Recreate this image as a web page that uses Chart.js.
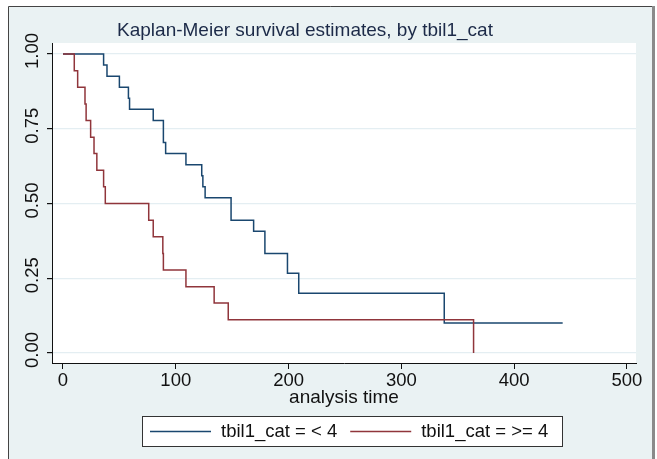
<!DOCTYPE html>
<html>
<head>
<meta charset="utf-8">
<script src="https://cdn.jsdelivr.net/npm/chart.js@4.4.0/dist/chart.umd.min.js"></script>
<style>
  html, body { margin: 0; padding: 0; background: #fff; }
  #wrap { width: 657px; height: 459px; }
</style>
</head>
<body>
<div id="wrap"><canvas id="km" width="657" height="459"></canvas></div>
<script>
// Kaplan-Meier estimates (time, survival after that time)
let lowTimes = [0, 36, 39, 50, 58, 59, 80, 89, 91, 109, 123, 124, 126, 149, 169, 179, 199, 209, 338, 443];
let lowSurv = [1, 0.963, 0.926, 0.889, 0.852, 0.815, 0.778, 0.704, 0.667, 0.630, 0.593, 0.556, 0.519, 0.444, 0.407, 0.333, 0.267, 0.200, 0.100, 0.100];
let highTimes = [0, 10, 13, 19.5, 20.5, 24.5, 27.5, 30, 36, 37.5, 76, 80, 88.5, 89, 109, 134, 146.5, 364];
let highSurv = [1, 0.944, 0.889, 0.833, 0.778, 0.722, 0.667, 0.611, 0.556, 0.500, 0.444, 0.389, 0.333, 0.278, 0.222, 0.167, 0.111, 0];

let seriesLabels = ["tbil1_cat = < 4", "tbil1_cat = >= 4"];
let seriesColors = ["#1a476f", "#90353b"];
let xTicks = [0, 100, 200, 300, 400, 500];
let yTicks = [0, 0.25, 0.5, 0.75, 1];

let font = '"Liberation Sans", Arial, sans-serif';

function toPoints(times, surv) {
    return times.map((t, i) => ({ x: t, y: surv[i] }));
}

let background = {
    id: "background",
    beforeDraw(chart) {
        let ctx = chart.ctx;
        let a = chart.chartArea;
        ctx.save();
        ctx.fillStyle = "#fff";
        ctx.fillRect(0, 0, chart.width, chart.height);
        ctx.fillStyle = "#eaf2f3";
        ctx.fillRect(9, 6, 643, chart.height - 6);
        ctx.strokeStyle = "#444";
        ctx.lineWidth = 1;
        ctx.beginPath();
        ctx.moveTo(8.5, chart.height);
        ctx.lineTo(8.5, 6.5);
        ctx.lineTo(652, 6.5);
        ctx.stroke();
        ctx.fillStyle = "#8a8a8a";
        ctx.fillRect(652, 6, 3, chart.height - 6);
        ctx.fillStyle = "#fff";
        ctx.fillRect(a.left, a.top, a.right - a.left, a.bottom - a.top);
        ctx.restore();
    }
};

let texts = {
    id: "texts",
    afterDraw(chart) {
        let ctx = chart.ctx;
        let y = chart.scales.y;
        ctx.save();
        // title
        ctx.fillStyle = "#1c2a48";
        ctx.font = "19px " + font;
        ctx.textAlign = "center";
        ctx.textBaseline = "alphabetic";
        ctx.fillText("Kaplan-Meier survival estimates, by tbil1_cat", 305, 36);

        // rotated y tick labels
        ctx.fillStyle = "#111";
        ctx.font = "18.5px " + font;
        yTicks.forEach(v => {
            let py = y.getPixelForValue(v) - 3;
            ctx.save();
            ctx.translate(38, py);
            ctx.rotate(-Math.PI / 2);
            ctx.textAlign = "center";
            ctx.textBaseline = "alphabetic";
            ctx.fillText(v.toFixed(2), 0, 0);
            ctx.restore();
        });

        // legend box
        let bx = 142.5, by = 416.5, bw = 420, bh = 30;
        ctx.fillStyle = "#fff";
        ctx.fillRect(bx, by, bw, bh);
        ctx.strokeStyle = "#333";
        ctx.lineWidth = 1;
        ctx.strokeRect(bx, by, bw, bh);
        let cy = by + bh / 2;
        let x = 150;
        ctx.textAlign = "left";
        ctx.textBaseline = "middle";
        chart.data.datasets.forEach(ds => {
            ctx.strokeStyle = ds.borderColor;
            ctx.lineWidth = 1.5;
            ctx.beginPath();
            ctx.moveTo(x, cy);
            ctx.lineTo(x + 61, cy);
            ctx.stroke();
            x += 71;
            ctx.fillStyle = "#111";
            ctx.fillText(ds.label, x, cy);
            x += ctx.measureText(ds.label).width + 13;
        });
        ctx.restore();
    }
};

let km = document.getElementById("km").getContext("2d");
let kmChart = new Chart(km, {
    type: "scatter",
    data: {
        datasets: [{
            label: seriesLabels[0],
            data: toPoints(lowTimes, lowSurv),
            borderColor: seriesColors[0],
            backgroundColor: seriesColors[0],
            showLine: true,
            stepped: true,
            pointRadius: 0,
            borderWidth: 1.5,
            order: 1
        }, {
            label: seriesLabels[1],
            data: toPoints(highTimes, highSurv),
            borderColor: seriesColors[1],
            backgroundColor: seriesColors[1],
            showLine: true,
            stepped: true,
            pointRadius: 0,
            borderWidth: 1.5,
            order: 0
        }]
    },
    options: {
        responsive: false,
        animation: false,
        devicePixelRatio: 1,
        layout: { padding: { left: 0, top: 43, right: 21, bottom: 0 } },
        plugins: {
            legend: { display: false },
            tooltip: { enabled: false },
            title: { display: false }
        },
        scales: {
            x: {
                type: "linear",
                min: -9.75,
                max: 508,
                afterBuildTicks: s => { s.ticks = xTicks.map(v => ({ value: v })); },
                afterFit: s => { s.height = 96; },
                grid: { drawOnChartArea: false, drawTicks: true, tickLength: 6, tickColor: "#111" },
                border: { display: true, color: "#111", width: 1 },
                ticks: { color: "#111", font: { family: font, size: 18.5 }, padding: 1, maxRotation: 0 },
                title: {
                    display: true,
                    text: "analysis time",
                    color: "#111",
                    font: { family: font, size: 19 },
                    padding: { top: 0, bottom: 50 }
                }
            },
            y: {
                type: "linear",
                min: -0.0334,
                max: 1.0368,
                afterBuildTicks: s => { s.ticks = yTicks.map(v => ({ value: v })); },
                afterFit: s => { s.width = 52; },
                grid: { color: "#e4eef2", lineWidth: 1.2, drawTicks: true, tickLength: 5, tickColor: "#111" },
                border: { display: true, color: "#111", width: 1 },
                ticks: { display: false }
            }
        }
    },
    plugins: [background, texts]
});
</script>
</body>
</html>
